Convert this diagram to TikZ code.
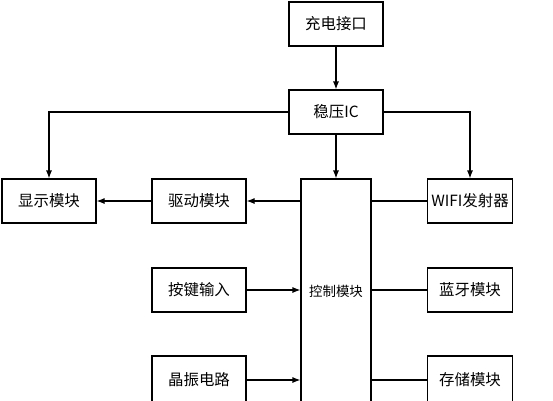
\documentclass[tikz,border=0pt]{standalone}
\usepackage{fontspec}
\usetikzlibrary{arrows.meta}
\setmainfont{Noto Sans CJK SC}
\tikzset{
  block/.style={draw, line width=1.1bp, minimum width=94bp, minimum height=44bp, inner sep=0pt, font=\fontsize{15.5}{18}\selectfont},
  rblock/.style={block, minimum width=85bp},
  cutblock/.style={minimum height=48bp},
  line/.style={line width=1.1bp},
  arrow/.style={line width=1.1bp, -{Latex[length=8bp, width=6bp]}}
}
\begin{document}
\begin{tikzpicture}[x=1bp, y=-1bp]
  \useasboundingbox (0,0) rectangle (553,400);
  \clip (0,0) rectangle (553,400);
  \node[block] (charge) at (336,24) {充电接口};
  \node[block] (ic) at (336,112) {稳压IC};
  \node[block] (disp) at (49,201) {显示模块};
  \node[block] (drive) at (199,201) {驱动模块};
  \node[block] (key) at (199,290) {按键输入};
  \node[block, cutblock] (osc) at (199,380) {晶振电路};
  \node[block, minimum width=70bp, minimum height=224bp, font=\fontsize{13.5}{16}\selectfont] (ctrl) at (336,291) {控制模块};
  \node[rblock] (wifi) at (470,201) {WIFI发射器};
  \node[rblock] (bt) at (470,290) {蓝牙模块};
  \node[rblock, cutblock] (mem) at (470,380) {存储模块};
  \draw[arrow] (charge) -- (ic);
  \draw[arrow] (ic) -- (ctrl);
  \draw[arrow] (ic) -| (disp);
  \draw[arrow] (ic) -| (wifi);
  \draw[arrow] (ctrl.west |- drive.east) -- (drive.east);
  \draw[arrow] (drive) -- (disp);
  \draw[arrow] (key) -- (ctrl.west |- key.east);
  \draw[arrow] (osc) -- (ctrl.west |- osc.east);
  \draw[line] (ctrl.east |- wifi.west) -- (wifi.west);
  \draw[line] (ctrl.east |- bt.west) -- (bt.west);
  \draw[line] (ctrl.east |- mem.west) -- (mem.west);
\end{tikzpicture}
\end{document}
